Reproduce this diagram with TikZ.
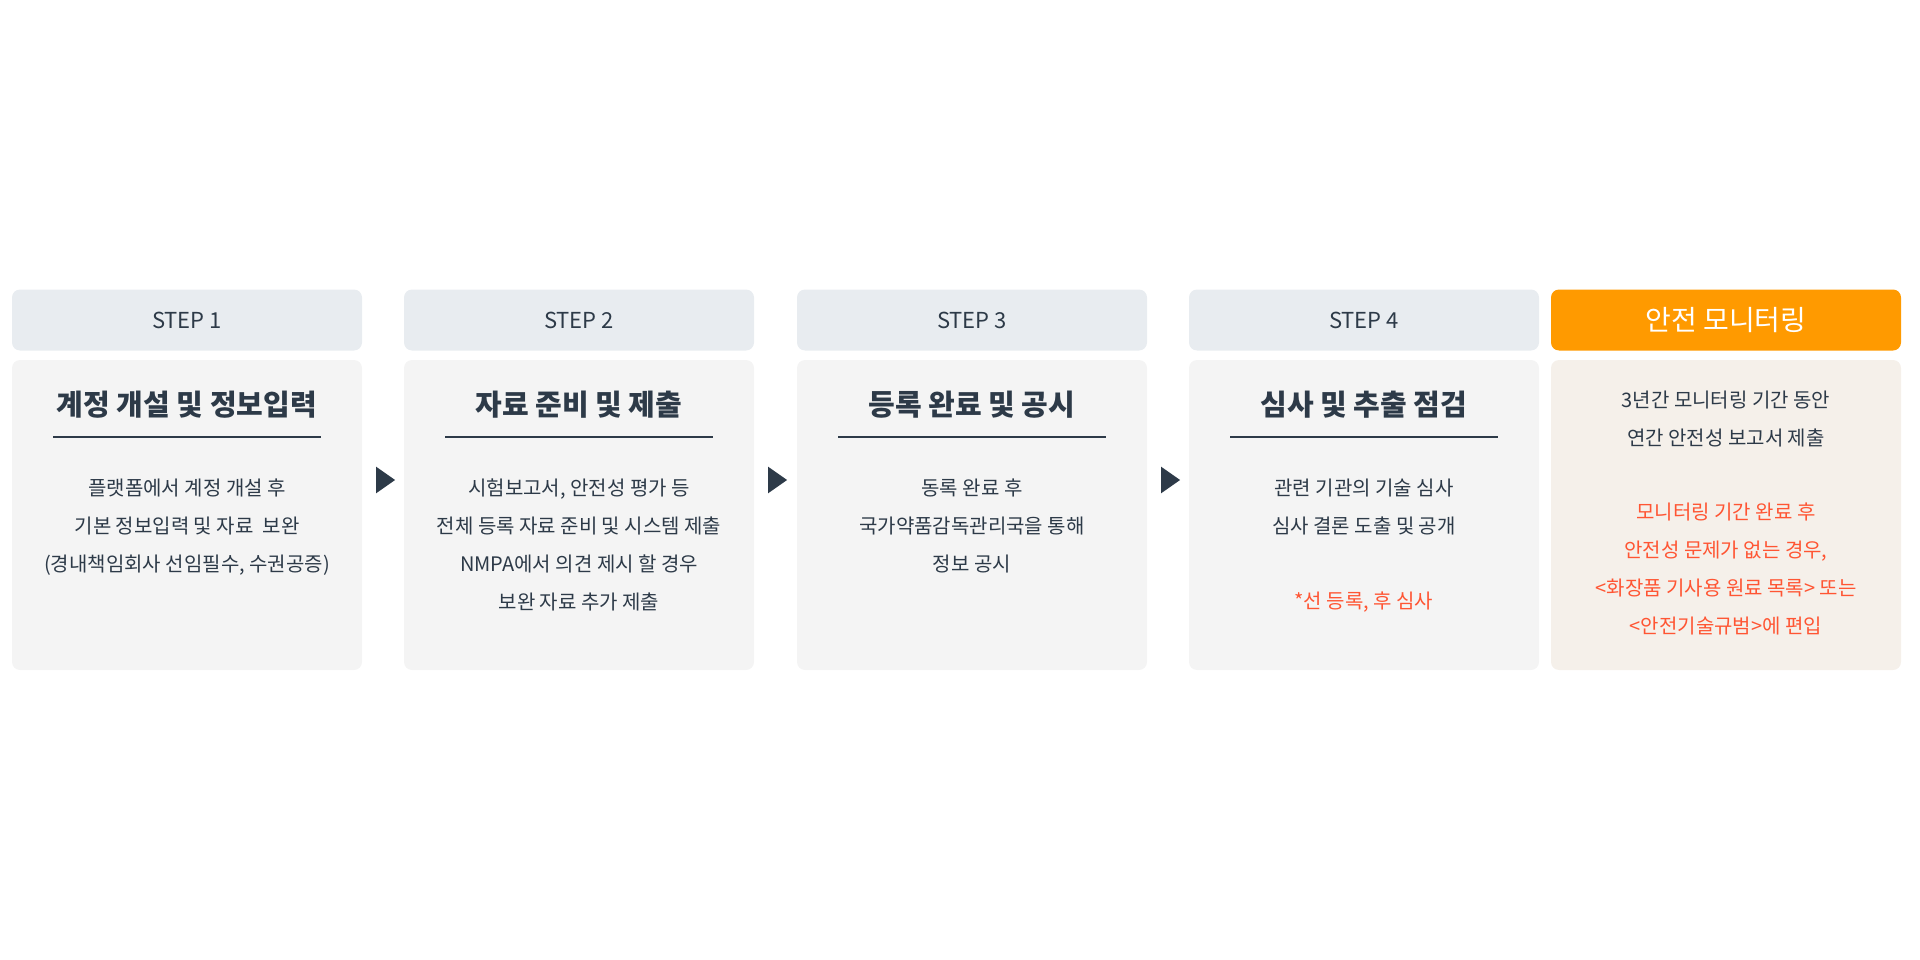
\documentclass[tikz,border=0pt]{standalone}
\usepackage{fontspec}
\setmainfont{Noto Sans CJK KR}
\usetikzlibrary{shapes.geometric}
\definecolor{headgray}{HTML}{E8ECF0}
\definecolor{bodygray}{HTML}{F4F4F4}
\definecolor{bodycream}{HTML}{F5F0EA}
\definecolor{mainorange}{HTML}{FF9A00}
\definecolor{inkdark}{HTML}{2D3A48}
\definecolor{notered}{HTML}{FF5533}

\begin{document}
\begin{tikzpicture}[x=1pt,y=-1pt,
  head/.style = {fill=headgray, rounded corners=8pt, minimum width=350pt, minimum height=61pt, text=inkdark, font=\fontsize{22}{26}\selectfont},
  body/.style = {fill=bodygray, rounded corners=8pt, minimum width=350pt, minimum height=310pt},
  title/.style = {text=inkdark, font=\fontsize{29}{34}\selectfont\bfseries},
  txt/.style = {text=inkdark, align=center, font=\fontsize{20}{38}\selectfont},
  redtxt/.style = {txt, text=notered},
  tri/.style = {isosceles triangle, fill=inkdark, inner sep=0pt, minimum height=19pt, minimum width=20pt, isosceles triangle apex angle=70}]
\useasboundingbox (0,0) rectangle (1920,960);

% step boxes
\foreach \i/\x in {1/187, 2/579, 3/972, 4/1364}{
  \node[head] (h\i) at (\x,320) {STEP \i};
  \node[body] (b\i) at (\x,515) {};
  \draw[inkdark, line width=1.5pt] (\x-134,437) -- (\x+134,437);
}
\node[head, fill=mainorange, text=white, font=\fontsize{28}{32}\selectfont] (h5) at (1726,320) {안전 모니터링};
\node[body, fill=bodycream] (b5) at (1726,515) {};

% arrows between boxes
\foreach \i/\x in {1/383, 2/775, 3/1168}{
  \node[tri] (a\i) at (\x,480) {};
}

% titles
\node[title] (t1) at (187,405) {계정 개설 및 정보입력};
\node[title] (t2) at (579,405) {자료 준비 및 제출};
\node[title] (t3) at (972,405) {등록 완료 및 공시};
\node[title] (t4) at (1364,405) {심사 및 추출 점검};

% texts
\node[txt, anchor=north] (d1) at (187,475) {플랫폼에서 계정 개설 후\\기본 정보입력 및 자료\ \ 보완\\(경내책임회사 선임필수, 수권공증)};
\node[txt, anchor=north] (d2) at (579,475) {시험보고서, 안전성 평가 등\\전체 등록 자료 준비 및 시스템 제출\\NMPA에서 의견 제시 할 경우\\보완 자료 추가 제출};
\node[txt, anchor=north] (d3) at (972,475) {동록 완료 후\\국가약품감독관리국을 통해\\정보 공시};
\node[txt, anchor=north] (d4) at (1364,475) {관련 기관의 기술 심사\\심사 결론 도출 및 공개};
\node[redtxt] (r4) at (1364,602) {*선 등록, 후 심사};
\node[txt, anchor=north] (d5) at (1726,387) {3년간 모니터링 기간 동안\\연간 안전성 보고서 제출};
\node[redtxt, anchor=north] (r5) at (1726,499) {모니터링 기간 완료 후\\안전성 문제가 없는 경우,\\<화장품 기사용 원료 목록> 또는\\<안전기술규범>에 편입};
\end{tikzpicture}
\end{document}
